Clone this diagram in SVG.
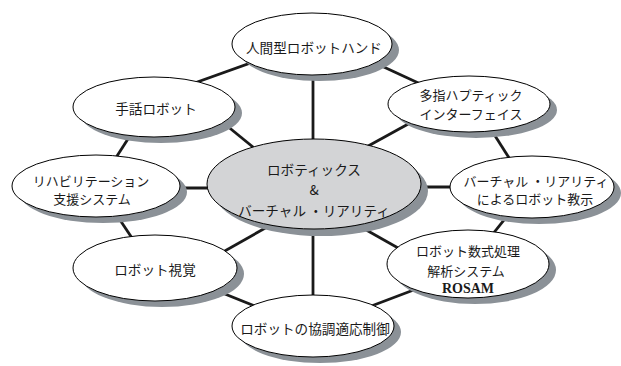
<svg xmlns="http://www.w3.org/2000/svg" width="621" height="366" viewBox="0 0 621 366">
<style>
.ln{stroke:#1a1a1a;stroke-width:2.8;fill:none}
.sh{fill:#8b9197}
.nd{fill:#fff;stroke:#000;stroke-width:1}
.ct{fill:#d3d4d6;stroke:#000;stroke-width:1}
text{font-family:"Noto Sans CJK JP","Noto Sans",sans-serif;font-size:13.6px;fill:#1a1a1a;text-anchor:middle}
.t2{font-size:13px}
.en{font-family:"Liberation Serif",serif;font-weight:bold;font-size:14px}
</style>
<rect width="621" height="366" fill="#fff"/>
<g id="connectors">
<line class="ln" x1="313" y1="60" x2="313" y2="150"/>
<line class="ln" x1="313" y1="220" x2="313" y2="305"/>
<line class="ln" x1="150" y1="188" x2="250" y2="188"/>
<line class="ln" x1="380" y1="187" x2="500" y2="187"/>
<line class="ln" x1="210" y1="112" x2="275" y2="165"/>
<line class="ln" x1="350" y1="156" x2="430" y2="112"/>
<line class="ln" x1="345" y1="218" x2="430" y2="266"/>
<line class="ln" x1="283" y1="218" x2="200" y2="265"/>
<line class="ln" x1="175" y1="90" x2="270" y2="56"/>
<line class="ln" x1="360" y1="56" x2="440" y2="93"/>
<line class="ln" x1="485" y1="120" x2="520" y2="175"/>
<line class="ln" x1="520" y1="200" x2="480" y2="250"/>
<line class="ln" x1="345" y1="316" x2="440" y2="280"/>
<line class="ln" x1="200" y1="284" x2="280" y2="316"/>
<line class="ln" x1="110" y1="205" x2="140" y2="250"/>
<line class="ln" x1="108" y1="170" x2="135" y2="128"/>
</g>
<g id="n-hand">
<ellipse class="sh" cx="319" cy="50" rx="80" ry="31"/>
<ellipse class="nd" cx="312" cy="44" rx="80" ry="31"/>
<text x="314" y="53">人間型ロボットハンド</text>
</g>
<g id="n-haptic">
<ellipse class="sh" cx="476" cy="110" rx="81" ry="28"/>
<ellipse class="nd" cx="469" cy="104" rx="81" ry="28"/>
<text class="t2" x="471" y="99.5">多指ハプティック</text>
<text class="t2" x="471" y="119">インターフェイス</text>
</g>
<g id="n-vr">
<ellipse class="sh" cx="539" cy="193" rx="82" ry="31"/>
<ellipse class="nd" cx="532" cy="187" rx="82" ry="31"/>
<text class="t2" x="536" y="185.5">バーチャル ・リアリティ</text>
<text class="t2" x="535" y="204">によるロボット教示</text>
</g>
<g id="n-rosam">
<ellipse class="sh" cx="475" cy="270" rx="81" ry="34"/>
<ellipse class="nd" cx="468" cy="264" rx="81" ry="34"/>
<text class="t2" x="468" y="256">ロボット数式処理</text>
<text class="t2" x="466" y="276">解析システム</text>
<text class="en" x="468" y="293">ROSAM</text>
</g>
<g id="n-coop">
<ellipse class="sh" cx="320" cy="332" rx="81" ry="31"/>
<ellipse class="nd" cx="313" cy="326" rx="81" ry="31"/>
<text x="315" y="334">ロボットの協調適応制御</text>
</g>
<g id="n-vision">
<ellipse class="sh" cx="162" cy="274" rx="82" ry="33"/>
<ellipse class="nd" cx="155" cy="268" rx="82" ry="33"/>
<text x="155" y="275">ロボット視覚</text>
</g>
<g id="n-rehab">
<ellipse class="sh" cx="103" cy="192" rx="84" ry="31"/>
<ellipse class="nd" cx="96" cy="186" rx="84" ry="31"/>
<text class="t2" x="91" y="185.5">リハビリテーション</text>
<text class="t2" x="92" y="204">支援システム</text>
</g>
<g id="n-sign">
<ellipse class="sh" cx="161" cy="113" rx="81" ry="30"/>
<ellipse class="nd" cx="154" cy="107" rx="81" ry="30"/>
<text x="156" y="113.5">手話ロボット</text>
</g>
<g id="n-center">
<ellipse class="sh" cx="321" cy="191" rx="107" ry="45"/>
<ellipse class="ct" cx="314" cy="184" rx="107" ry="45"/>
<text x="314" y="175">ロボティックス</text>
<text x="314" y="195">&amp;</text>
<text x="314" y="216">バーチャル ・リアリティ</text>
</g>
</svg>
